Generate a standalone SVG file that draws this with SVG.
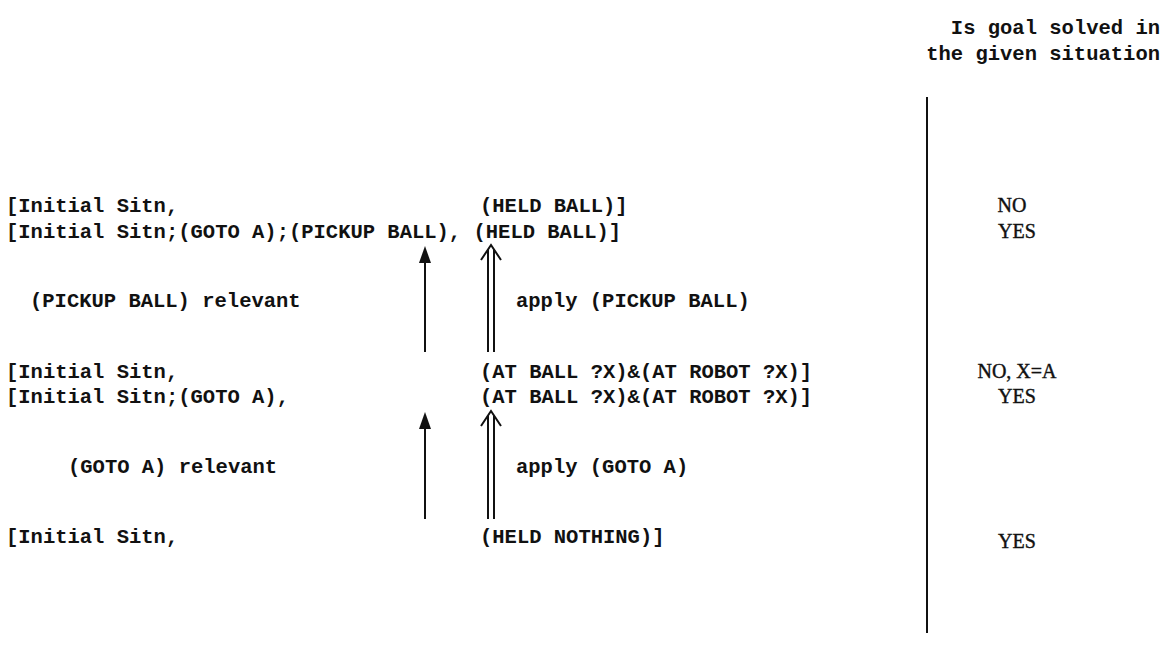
<svg xmlns="http://www.w3.org/2000/svg" width="1166" height="655" viewBox="0 0 1166 655">
<defs>
<style>
text{font-family:"Liberation Mono","DejaVu Sans Mono",monospace;font-size:20.5px;font-weight:bold;fill:#111;}
.r{font-family:"Liberation Serif",serif;font-size:20px;font-weight:normal;stroke:#111;stroke-width:0.4;}
.ln{stroke:#111;stroke-width:2;fill:none;}
.head{fill:#111;stroke:none;}
</style>
</defs>
<rect width="1166" height="655" fill="#fff"/>
<g id="header">
<text x="1160" y="34" text-anchor="end">Is goal solved in</text>
<text x="1160" y="60" text-anchor="end">the given situation</text>
</g>
<g id="row1"><text x="6" y="212">[Initial Sitn,</text><text x="480" y="212">(HELD BALL)]</text></g>
<g id="row2"><text x="6" y="238">[Initial Sitn;(GOTO A);(PICKUP BALL), (HELD BALL)]</text></g>
<g id="label1"><text x="30" y="307">(PICKUP BALL) relevant</text><text x="516" y="307">apply (PICKUP BALL)</text></g>
<g id="row3"><text x="6" y="378">[Initial Sitn,</text><text x="480" y="378">(AT BALL ?X)&amp;(AT ROBOT ?X)]</text></g>
<g id="row4"><text x="6" y="403">[Initial Sitn;(GOTO A),</text><text x="480" y="403">(AT BALL ?X)&amp;(AT ROBOT ?X)]</text></g>
<g id="label2"><text x="68" y="473">(GOTO A) relevant</text><text x="516" y="473">apply (GOTO A)</text></g>
<g id="row5"><text x="6" y="543">[Initial Sitn,</text><text x="480" y="543">(HELD NOTHING)]</text></g>
<g id="answers">
<text class="r" x="1012" y="212" text-anchor="middle">NO</text>
<text class="r" x="1017" y="238" text-anchor="middle">YES</text>
<text class="r" x="1017" y="378" text-anchor="middle">NO, X=A</text>
<text class="r" x="1017" y="403" text-anchor="middle">YES</text>
<text class="r" x="1017" y="548" text-anchor="middle">YES</text>
</g>
<g id="connectors">
<line class="ln" x1="927" y1="97" x2="927" y2="633"/>
<line class="ln" x1="425" y1="352" x2="425" y2="258"/>
<path class="head" d="M425,246 L431,263 L419,263 Z"/>
<line class="ln" x1="488" y1="352" x2="488" y2="250"/>
<line class="ln" x1="494" y1="352" x2="494" y2="250"/>
<path class="ln" d="M481,260 L491,245 L501,260"/>
<line class="ln" x1="425" y1="519" x2="425" y2="424"/>
<path class="head" d="M425,412 L431,429 L419,429 Z"/>
<line class="ln" x1="488" y1="519" x2="488" y2="416"/>
<line class="ln" x1="494" y1="519" x2="494" y2="416"/>
<path class="ln" d="M481,426 L491,411 L501,426"/>
</g>
</svg>
